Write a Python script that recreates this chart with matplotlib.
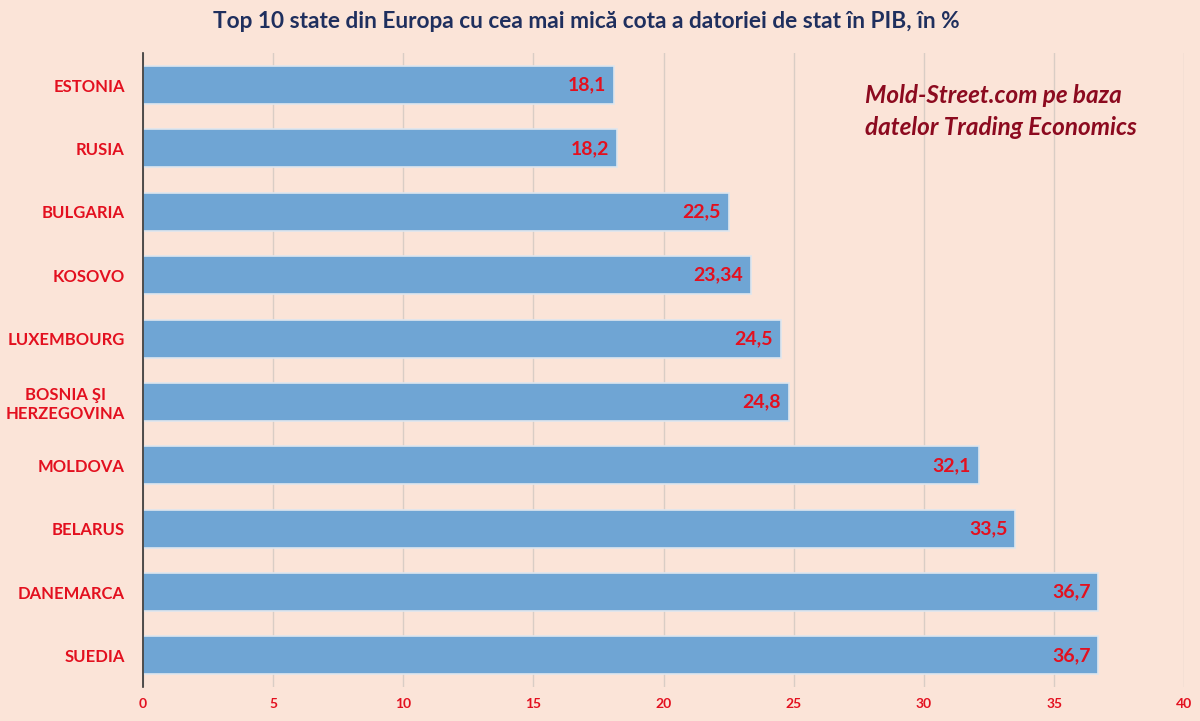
import matplotlib.pyplot as plt

# Date: cota datoriei de stat in PIB, %
tari = ["ESTONIA", "RUSIA", "BULGARIA", "KOSOVO", "LUXEMBOURG",
        "BOSNIA ŞI\nHERZEGOVINA", "MOLDOVA", "BELARUS", "DANEMARCA", "SUEDIA"]
valori = [18.1, 18.2, 22.5, 23.34, 24.5, 24.8, 32.1, 33.5, 36.7, 36.7]
etichete = ["18,1", "18,2", "22,5", "23,34", "24,5", "24,8", "32,1", "33,5", "36,7", "36,7"]
x_ticks = [0, 5, 10, 15, 20, 25, 30, 35, 40]

fond = "#fbe4d8"
rosu = "#e3101f"
plt.rcParams["font.family"] = ["Lato", "DejaVu Sans"]

fig = plt.figure(figsize=(12, 7.21), dpi=100, facecolor=fond)
ax = fig.add_axes([0.119, 0.047, 0.868, 0.879], facecolor=fond)

y = list(range(len(tari)))
ax.barh(y, valori, height=0.6, color="#6fa5d4", edgecolor="#dfe6ee", linewidth=1.2, zorder=3)
ax.set_ylim(len(tari) - 0.5, -0.5)
ax.set_xlim(0, 40)

for yi, v, t in zip(y, valori, etichete):
    ax.text(v - 0.3, yi, t, ha="right", va="center", color=rosu,
            fontsize=14, fontweight="bold", zorder=4)

ax.set_yticks(y)
ax.set_yticklabels(tari, color=rosu, fontsize=12, fontweight="bold", ha="right",
                   multialignment="center")
ax.tick_params(axis="y", length=0, pad=13)

ax.set_xticks(x_ticks)
ax.set_xticklabels([str(t) for t in x_ticks], color=rosu, fontsize=10, fontweight="bold")
ax.tick_params(axis="x", length=0, pad=8)
ax.grid(axis="x", color="#d9cdc5", linewidth=1, zorder=0)

for s in ["top", "right", "bottom"]:
    ax.spines[s].set_visible(False)
ax.spines["left"].set_color("#333333")
ax.spines["left"].set_linewidth(1.2)
ax.spines["left"].set_zorder(5)

fig.text(0.489, 0.97, "Top 10 state din Europa cu cea mai mică cota a datoriei de stat în PIB, în %",
         ha="center", va="center", color="#1f2f5e", fontsize=16.3, fontweight="bold")

ax.text(0.693, 0.908, "Mold-Street.com pe baza\ndatelor Trading Economics",
        transform=ax.transAxes, ha="left", va="center", color="#8c0a1f",
        fontsize=17.5, fontweight="bold", style="italic", linespacing=1.45)

fig.savefig("out.png", dpi=100, facecolor=fond)
